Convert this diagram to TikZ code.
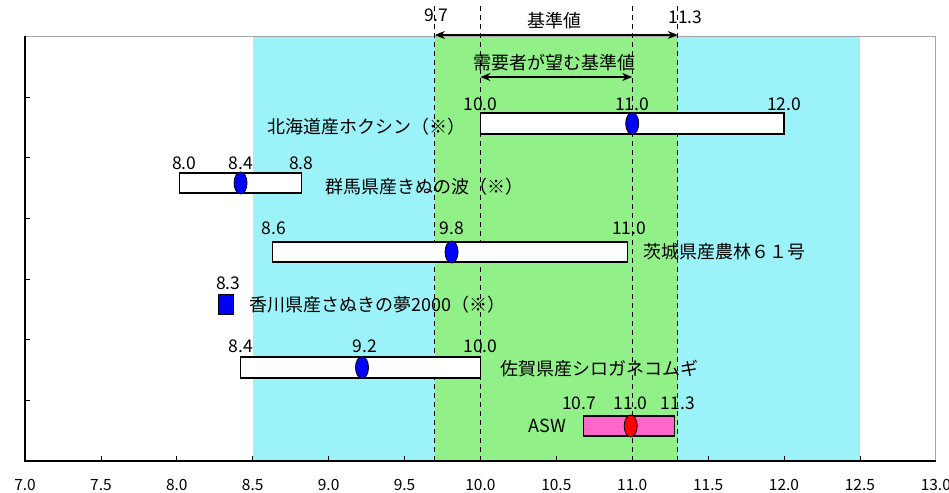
\documentclass[tikz,border=0pt]{standalone}
\usepackage{fontspec}
\setmainfont{Noto Sans CJK JP}
\usepackage{tikz}
\usetikzlibrary{arrows,arrows.meta,shapes.geometric,positioning}
\definecolor{lcyan}{RGB}{155,242,248}
\definecolor{lgreen}{RGB}{145,240,135}
\definecolor{aswpink}{RGB}{255,102,204}
\tikzstyle{wbar}  = [draw=black, line width=1.1pt, fill=white]
\tikzstyle{dot}   = [ellipse, draw=black, line width=0.8pt, fill=blue, minimum width=13pt, minimum height=22pt, inner sep=0pt]
\tikzstyle{sq}    = [rectangle, draw=black, line width=0.8pt, fill=blue, minimum width=15pt, minimum height=20pt, inner sep=0pt]
\tikzstyle{val}   = [font=\fontsize{17.5}{18}\selectfont, inner sep=0pt]
\tikzstyle{cname} = [font=\fontsize{18}{18}\selectfont, inner sep=0pt]
\tikzstyle{tick}  = [font=\fontsize{15.5}{16}\selectfont, inner sep=0pt]
\tikzstyle{guide} = [dash pattern=on 5pt off 4pt, line width=1.2pt]
\tikzstyle{arrow} = [line width=1.2pt,<->,>={Stealth[length=10pt,width=8pt]}]

\begin{document}
\begin{tikzpicture}[x=151.8pt, y=-1pt]
        \useasboundingbox (6.8353,0) rectangle (13.087,493);

        % bands
        \fill[lcyan] (8.5,36) rectangle (12.5,461);
        \fill[lgreen] (9.7,36) rectangle (11.3,461);

        % frame and ticks
        \draw[gray!70, line width=1pt] (7,36) -- (13,36) -- (13,461);
        \draw[line width=1.2pt] (7,36) -- (7,461) -- (13,461);
        \foreach \y in {97,157,218,279,339,400}
            \draw[line width=0.8pt] (7,\y) -- (7.033,\y);
        \foreach \v in {7.5,8.0,8.5,9.0,9.5,10.0,10.5,11.0,11.5,12.0,12.5}
            \draw[line width=0.8pt] (\v,461) -- (\v,456);
        \foreach \v [count=\i] in {7.0,7.5,8.0,8.5,9.0,9.5,10.0,10.5,11.0,11.5,12.0,12.5,13.0}
            \node[tick] (tick\i) at (\v,485) {\v};

        \foreach \v in {9.7,10.0,11.0,11.3}
            \draw[guide] (\v,6) -- (\v,461);

        % standard ranges
        \coordinate (stdL) at (9.7,35);
        \coordinate (stdR) at (11.3,35);
        \draw[arrow] (stdL) -- (stdR);
        \coordinate (wantL) at (10.0,77);
        \coordinate (wantR) at (11.0,77);
        \draw[arrow] (wantL) -- (wantR);
        \node[val] (std97) at (9.71,15) {9.7};
        \node[val] (std113) at (11.35,17) {11.3};
        \node[cname] (stdT) at (10.485,21) {基準値};
        \node[cname] (wantT) at (10.49,63) {需要者が望む基準値};

        % Hokkaido
        \draw[wbar] (10.0,113) rectangle (12.0,134);
        \node[dot] (hokM) at (11.0,123.5) {};
        \node[val] (hokA) at (10.0,104) {10.0};
        \node[val] (hokB) at (11.0,104) {11.0};
        \node[val] (hokC) at (12.0,104) {12.0};
        \node[cname, anchor=east] (hokN) at (9.9,127) {北海道産ホクシン（※）};

        % Gunma
        \draw[wbar] (8.02,173) rectangle (8.82,193);
        \node[dot] (gunM) at (8.42,183) {};
        \node[val] (gunA) at (8.05,163) {8.0};
        \node[val] (gunB) at (8.42,163) {8.4};
        \node[val] (gunC) at (8.82,163) {8.8};
        \node[cname, anchor=west] (gunN) at (8.976,187) {群馬県産きぬの波（※）};

        % Ibaraki
        \draw[wbar] (8.63,242) rectangle (10.97,262);
        \node[dot] (ibaM) at (9.81,252) {};
        \node[val] (ibaA) at (8.64,228) {8.6};
        \node[val] (ibaB) at (9.81,228) {9.8};
        \node[val] (ibaC) at (10.98,228) {11.0};
        \node[cname, anchor=west] (ibaN) at (11.07,252) {茨城県産農林６１号};

        % Kagawa
        \node[sq] (kagM) at (8.325,304) {};
        \node[val] (kagA) at (8.34,283) {8.3};
        \node[cname, anchor=west] (kagN) at (8.48,305) {香川県産さぬきの夢2000（※）};

        % Saga
        \draw[wbar] (8.42,357) rectangle (10.0,378);
        \node[dot] (sagM) at (9.22,367.5) {};
        \node[val] (sagA) at (8.42,346) {8.4};
        \node[val] (sagB) at (9.24,346) {9.2};
        \node[val] (sagC) at (10.0,346) {10.0};
        \node[cname, anchor=west] (sagN) at (10.13,369) {佐賀県産シロガネコムギ};

        % ASW
        \draw[wbar, fill=aswpink] (10.68,416) rectangle (11.28,436);
        \node[dot, fill=red] (aswM) at (10.99,426) {};
        \node[val] (aswA) at (10.65,403) {10.7};
        \node[val] (aswB) at (10.99,403) {11.0};
        \node[val] (aswC) at (11.30,403) {11.3};
        \node[cname] (aswN) at (10.44,426) {ASW};
\end{tikzpicture}
\end{document}
